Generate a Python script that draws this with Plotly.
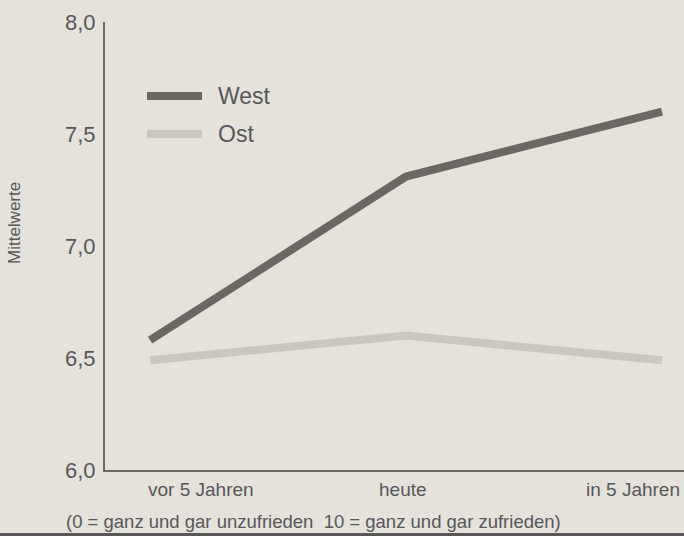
import plotly.graph_objects as go

# Zeitpunkte und Mittelwerte der Zufriedenheit
zeitpunkte = ["vor 5 Jahren", "heute", "in 5 Jahren"]
west = [6.58, 7.31, 7.60]
ost = [6.49, 6.60, 6.49]
y_ticks = [6.0, 6.5, 7.0, 7.5, 8.0]

W, H = 684, 536
ML, MR, MT, MB = 105, 0, 22, 66
BG = "#e4e2da"
WEST_C = "#6b6864"
OST_C = "#cac7c0"
TXT = "#58575a"
FONT = "Liberation Sans, Arial, sans-serif"

x_pos = list(range(len(zeitpunkte)))

fig = go.Figure()
fig.add_trace(go.Scatter(x=x_pos, y=ost, mode="lines", name="Ost",
                         line=dict(color=OST_C, width=8), showlegend=False))
fig.add_trace(go.Scatter(x=x_pos, y=west, mode="lines", name="West",
                         line=dict(color=WEST_C, width=8), showlegend=False))

pw = W - ML - MR
ph = H - MT - MB

def px_x(p):
    return (p - ML) / pw

def px_y(p):
    return 1 - (p - MT) / ph

# Legende als Linienstück plus Beschriftung
shapes = []
annotations = []
for label, color, ypix in [("West", WEST_C, 96), ("Ost", OST_C, 134)]:
    shapes.append(dict(type="line", xref="paper", yref="paper",
                       x0=px_x(147), x1=px_x(202), y0=px_y(ypix), y1=px_y(ypix),
                       line=dict(color=color, width=8)))
    annotations.append(dict(text=label, xref="paper", yref="paper",
                            x=px_x(216), y=px_y(ypix), xanchor="left", yanchor="middle",
                            showarrow=False, font=dict(size=23, color=TXT, family=FONT)))

# Beschriftung der Zeitpunkte unter der Achse
anchors = [("left", -4), ("center", -3), ("right", 20)]
for i, name in enumerate(zeitpunkte):
    xa, xs = anchors[i]
    annotations.append(dict(text=name, xref="x", yref="paper", x=x_pos[i], y=0,
                            xanchor=xa, yanchor="top", xshift=xs, yshift=-7,
                            showarrow=False, font=dict(size=19, color=TXT, family=FONT)))

annotations.append(dict(text="Mittelwerte", xref="paper", yref="paper",
                        x=px_x(14), y=px_y(223), textangle=-90,
                        xanchor="center", yanchor="middle", showarrow=False,
                        font=dict(size=17, color=TXT, family=FONT)))

annotations.append(dict(text="(0 = ganz und gar unzufrieden  10 = ganz und gar zufrieden)",
                        xref="paper", yref="paper", x=px_x(64), y=px_y(521),
                        xanchor="left", yanchor="middle", showarrow=False,
                        font=dict(size=18.5, color=TXT, family=FONT)))

# dunkler Rand am unteren Bildende
shapes.append(dict(type="rect", xref="paper", yref="paper",
                   x0=px_x(0), x1=px_x(W), y0=px_y(536), y1=px_y(533),
                   fillcolor="#5a5856", line=dict(width=0), layer="above"))

fig.update_layout(
    width=W, height=H,
    margin=dict(l=ML, r=MR, t=MT, b=MB),
    paper_bgcolor=BG, plot_bgcolor=BG,
    separators=",.",
    font=dict(family=FONT, color=TXT),
    shapes=shapes,
    annotations=annotations,
    xaxis=dict(range=[-0.176, 2.086], showgrid=False, zeroline=False,
               showticklabels=False, showline=True, linecolor=WEST_C, linewidth=2,
               fixedrange=True),
    yaxis=dict(range=[6.0, 8.0], tickvals=y_ticks, tickformat=".1f",
               showgrid=False, zeroline=False, showline=True, linecolor=WEST_C,
               linewidth=2, ticks="", ticklabelstandoff=3,
               tickfont=dict(size=22, color=TXT, family=FONT), fixedrange=True),
)

fig.write_html("out.html")
